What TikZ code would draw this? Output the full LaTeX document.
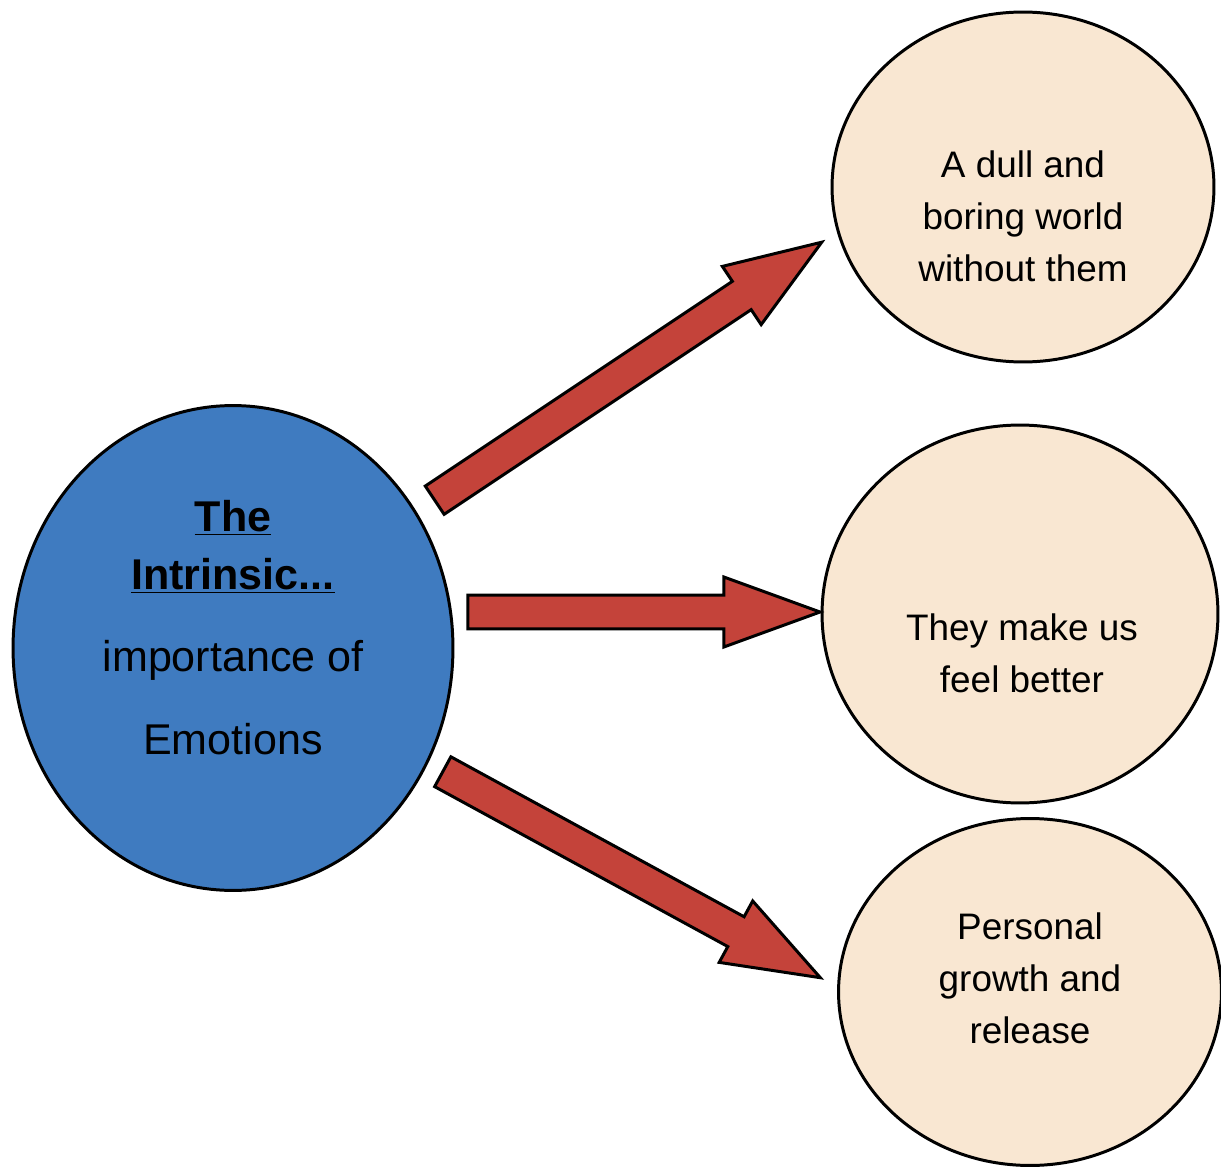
\documentclass[tikz,border=0pt]{standalone}
\usepackage{fontspec}
\setmainfont{Liberation Sans}
\usepackage{tikz}
\usetikzlibrary{calc,shapes.geometric,shapes.arrows}
\definecolor{emo-blue}{HTML}{3F7BC0}
\definecolor{emo-beige}{HTML}{F9E7D2}
\definecolor{emo-red}{HTML}{C4433A}

\newcommand{\blockarrow}[2]{%
  \path let \p1=(#1), \p2=(#2), \n1={atan2(\y2-\y1,\x2-\x1)}, \n2={veclen(\x2-\x1,\y2-\y1)} in
    node[bigarrow, minimum height=\n2, rotate=\n1, anchor=tail] at (#1) {};}

\begin{document}
\begin{tikzpicture}[x=0.02cm, y=-0.02cm,
  bubble/.style={ellipse, draw, line width=1.7pt, fill=emo-beige, inner sep=0pt},
  bubbletext/.style={align=center, font=\fontsize{21}{29.6}\selectfont},
  bigarrow/.style={single arrow, draw, line width=1.7pt, fill=emo-red, inner xsep=0pt, inner ysep=0.31cm,
    single arrow head extend=0.36cm, single arrow tip angle=40}]
\useasboundingbox (0,0) rectangle (1221,1169);
\node[ellipse, draw, line width=1.7pt, fill=emo-blue, inner sep=0pt, minimum width=8.8cm, minimum height=9.7cm] (emo) at (233,648) {};
\node[bubble, minimum width=7.64cm, minimum height=7cm] (dull) at (1023,187) {};
\node[bubble, minimum width=7.92cm, minimum height=7.56cm] (better) at (1020,614) {};
\node[bubble, minimum width=7.66cm, minimum height=6.94cm] (growth) at (1030,992) {};
\node[align=center, font=\fontsize{24.5}{33}\selectfont] (emo-text) at (233,628)
  {\textbf{\underline{The}}\\ \textbf{\underline{Intrinsic...}}\\[0.48cm] importance of\\[0.5cm] Emotions};
\node[bubbletext] (dull-text) at (1023,216) {A dull and\\ boring world\\ without them};
\node[bubbletext] (better-text) at (1022,653) {They make us\\ feel better};
\node[bubbletext] (growth-text) at (1030,978) {Personal\\ growth and\\ release};
\coordinate (tail-up) at ([shift={(-21,-147)}]emo.east);
\coordinate (tail-mid) at ([shift={(12,-36)}]emo.east);
\coordinate (tail-down) at ([shift={(-13,123)}]emo.east);
\coordinate (tip-up) at ([shift={(-10,56)}]dull.west);
\coordinate (tip-mid) at ([shift={(-2,-2)}]better.west);
\coordinate (tip-down) at ([shift={(-18,-15)}]growth.west);
\blockarrow{tail-up}{tip-up}
\blockarrow{tail-mid}{tip-mid}
\blockarrow{tail-down}{tip-down}
\end{tikzpicture}
\end{document}
